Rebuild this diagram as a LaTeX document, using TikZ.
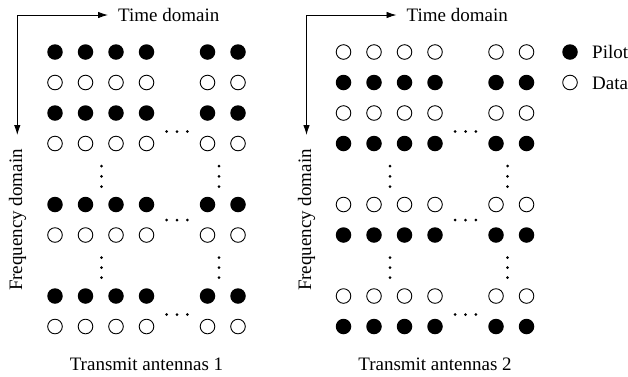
\documentclass[tikz,border=0pt]{standalone}
\usepackage{fontspec}
\setmainfont{Liberation Serif}
\usetikzlibrary{arrows.meta}
\begin{document}
\begin{tikzpicture}[x=1pt,y=-1pt,
  pilot/.style={circle,fill=black,minimum size=15.5pt,inner sep=0pt},
  datum/.style={circle,draw=black,line width=0.9pt,minimum size=14.6pt,inner sep=0pt},
  lbl/.style={font=\fontsize{19}{22}\selectfont,inner sep=0pt},
  axis/.style={line width=0.9pt,{Latex[length=10pt,width=6.5pt]}-{Latex[length=10pt,width=6.5pt]}}]
\useasboundingbox (0,0) rectangle (628,376);

% two pilot/data grids, the second shifted right with the pattern inverted;
% \f alternates within each group of rows
\foreach \p/\ox/\pty in {L/0/0, R/288.5/1} {
  \foreach \r/\f in {0/0,1/1,2/0,3/1,5/0,6/1,8/0,9/1} {
    \foreach \c in {0,1,2,3,5,6} {
      \pgfmathtruncatemacro\k{mod(\f+\pty,2)}
      \ifnum\k=0 \def\sty{pilot}\else\def\sty{datum}\fi
      \node[\sty] (\p-\r-\c) at ({55+\ox+30.5*\c},{52+30.5*\r}) {};
    }
  }
  % horizontal ellipses between the column groups
  \foreach \y in {131.5,220,314.5} {
    \foreach \dx in {-10.3,0,10.3}
      \fill ({177+\ox+\dx},\y) circle (1.5);
  }
  % vertical ellipses between the row groups
  \foreach \x in {101.5,219} {
    \foreach \y in {166,176.3,186.6,257.7,267.7,277.7}
      \fill ({\x+\ox},\y) circle (1.5);
  }
}

% axes and their labels
\node[lbl,anchor=base west] (tL) at (118,21.5) {Time domain};
\node[lbl,anchor=base west] (tR) at (406.5,21.5) {Time domain};
\node[lbl,rotate=90] (fqL) at (17.5,220) {Frequency domain};
\node[lbl,rotate=90] (fqR) at (306.5,220) {Frequency domain};
\coordinate (fL) at (17.3,135);
\coordinate (fR) at (306.5,135);
\draw[axis] (fL) |- ([xshift=-10pt]tL.west);
\draw[axis] (fR) |- ([xshift=-10pt]tR.west);

% captions
\node[lbl,anchor=base] (capL) at (146.5,370) {Transmit antennas 1};
\node[lbl,anchor=base] (capR) at (435,370) {Transmit antennas 2};

% legend
\node[pilot] (keyP) at (570,52) {};
\node[datum] (keyD) at (570,82.5) {};
\node[lbl,anchor=base west] (keyPt) at (592,58.5) {Pilot};
\node[lbl,anchor=base west] (keyDt) at (592,89) {Data};
\end{tikzpicture}
\end{document}
